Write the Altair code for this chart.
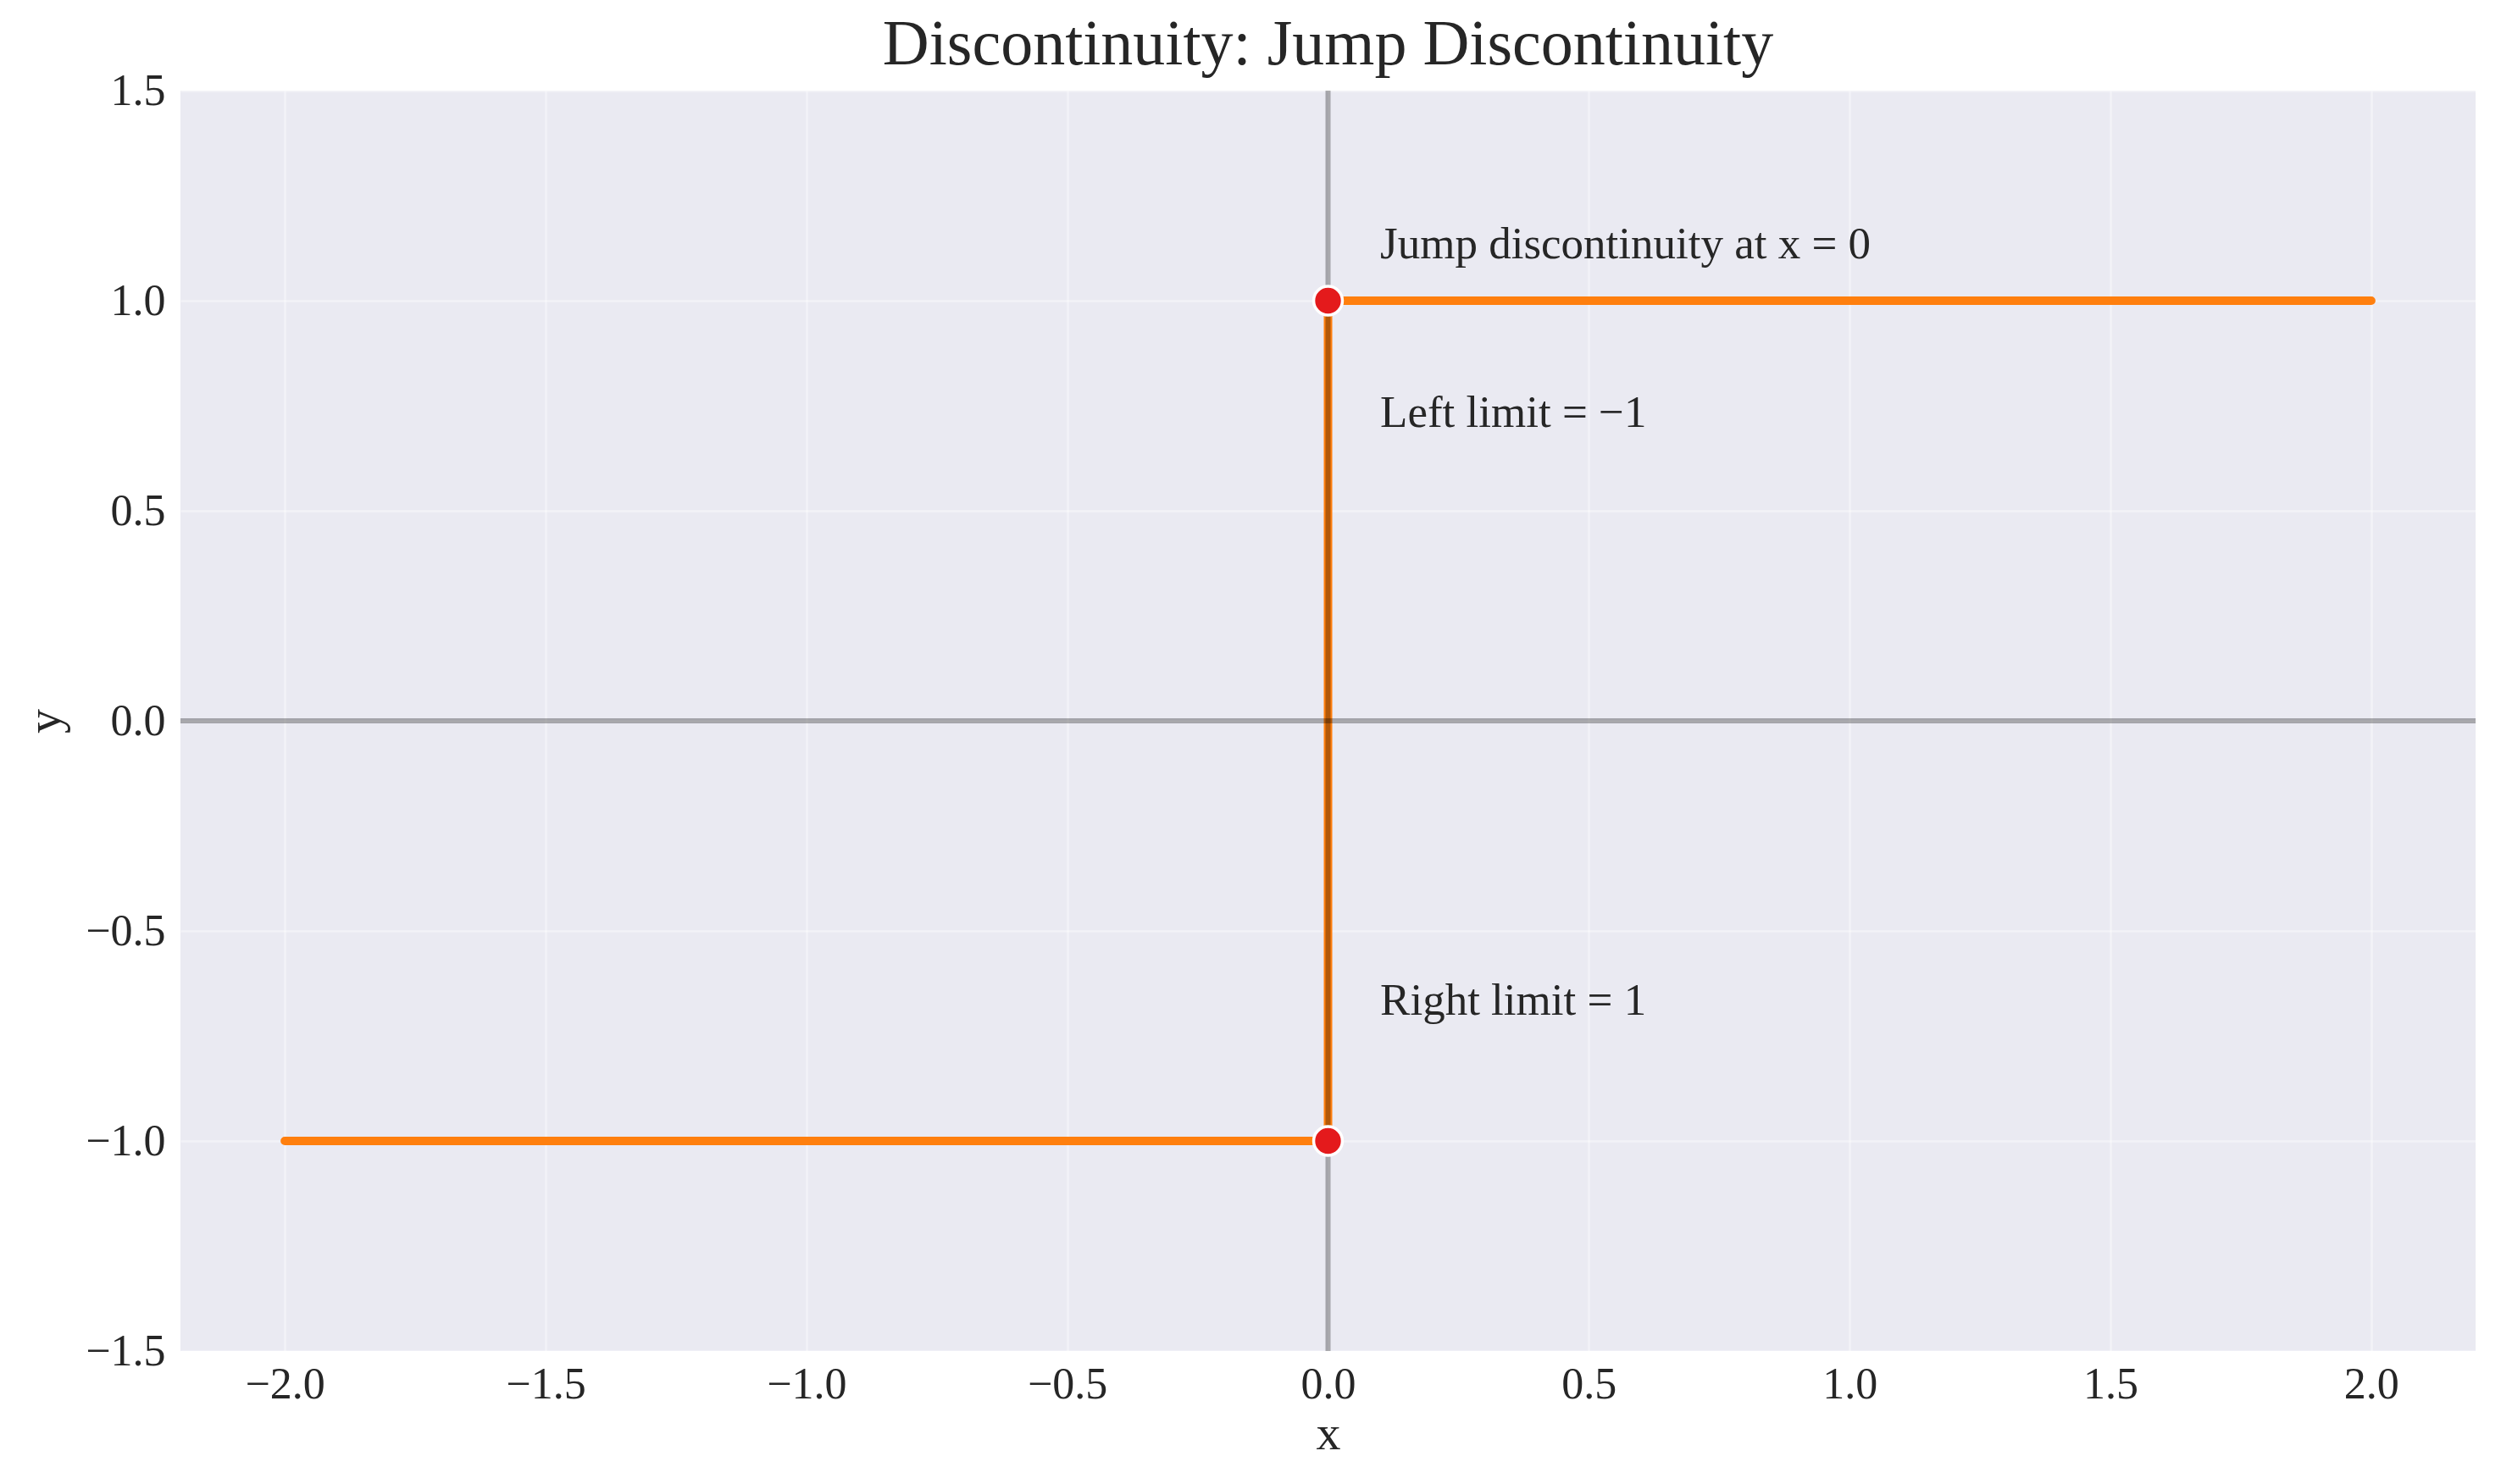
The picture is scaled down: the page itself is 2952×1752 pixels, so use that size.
import altair as alt
import pandas as pd

# Step function data
line_x = [-2.0, 0.0, 0.0, 2.0]
line_y = [-1.0, -1.0, 1.0, 1.0]

# Highlighted points
pt_x = [0.0, 0.0]
pt_y = [1.0, -1.0]

# Annotations
ann_x = [0.1, 0.1, 0.1]
ann_y = [1.1, 0.7, -0.7]
ann_text = ["Jump discontinuity at x = 0", "Left limit = \u22121", "Right limit = 1"]

x_ticks = [-2.0, -1.5, -1.0, -0.5, 0.0, 0.5, 1.0, 1.5, 2.0]
y_ticks = [-1.5, -1.0, -0.5, 0.0, 0.5, 1.0, 1.5]

FONT = "Liberation Serif"
TXT = "#262626"

line_df = pd.DataFrame({"x": line_x, "y": line_y, "order": list(range(len(line_x)))})
pt_df = pd.DataFrame({"x": pt_x, "y": pt_y})
ann_df = pd.DataFrame({"x": ann_x, "y": ann_y, "text": ann_text})

xscale = alt.Scale(domain=[-2.2, 2.2], nice=False, zero=False)
yscale = alt.Scale(domain=[-1.5, 1.5], nice=False, zero=False)

xaxis = alt.Axis(values=x_ticks, format=".1f", title="x", grid=True,
                 gridColor="white", gridOpacity=0.4, gridWidth=2.5,
                 domain=False, ticks=False, labelPadding=14,
                 labelFontSize=52, labelFont=FONT, labelColor=TXT,
                 titleFontSize=58, titleFont=FONT, titleColor=TXT,
                 titleFontWeight="normal", titlePadding=4)
yaxis = alt.Axis(values=y_ticks, format=".1f", title="y", grid=True,
                 gridColor="white", gridOpacity=0.4, gridWidth=2.5,
                 domain=False, ticks=False, labelPadding=18,
                 labelFontSize=52, labelFont=FONT, labelColor=TXT,
                 titleFontSize=58, titleFont=FONT, titleColor=TXT,
                 titleFontWeight="normal", titlePadding=18)

base_line = alt.Chart(line_df).mark_line(color="#FF7F0E", strokeWidth=10, strokeCap="round").encode(
    x=alt.X("x:Q", scale=xscale, axis=xaxis),
    y=alt.Y("y:Q", scale=yscale, axis=yaxis),
    order="order:Q",
)

hrule = alt.Chart(pd.DataFrame({"y": [0.0]})).mark_rule(color="black", opacity=0.3, strokeWidth=6).encode(
    y=alt.Y("y:Q", scale=yscale)
)
vrule = alt.Chart(pd.DataFrame({"x": [0.0]})).mark_rule(color="black", opacity=0.3, strokeWidth=6).encode(
    x=alt.X("x:Q", scale=xscale)
)

points = alt.Chart(pt_df).mark_point(filled=True, fill="#E41A1C", stroke="white", strokeWidth=3.5,
                                     size=1150, opacity=1, shape="circle").encode(
    x=alt.X("x:Q", scale=xscale),
    y=alt.Y("y:Q", scale=yscale),
)

texts = alt.Chart(ann_df).mark_text(align="left", baseline="alphabetic", font=FONT,
                                    fontSize=53, color=TXT).encode(
    x=alt.X("x:Q", scale=xscale),
    y=alt.Y("y:Q", scale=yscale),
    text="text:N",
)

chart = alt.layer(base_line, hrule, vrule, points, texts).properties(
    width=2709,
    height=1488,
    title=alt.TitleParams("Discontinuity: Jump Discontinuity", font=FONT, fontSize=76,
                          fontWeight="normal", color=TXT, anchor="middle", offset=18, dy=29),
    autosize=alt.AutoSizeParams(type="none"),
    padding={"left": 205, "top": 99, "right": 14, "bottom": 140},
    background="white",
).configure_view(fill="#EAEAF2", stroke=None)

chart.save("out.html", embed_options={"renderer": "svg", "actions": False})
